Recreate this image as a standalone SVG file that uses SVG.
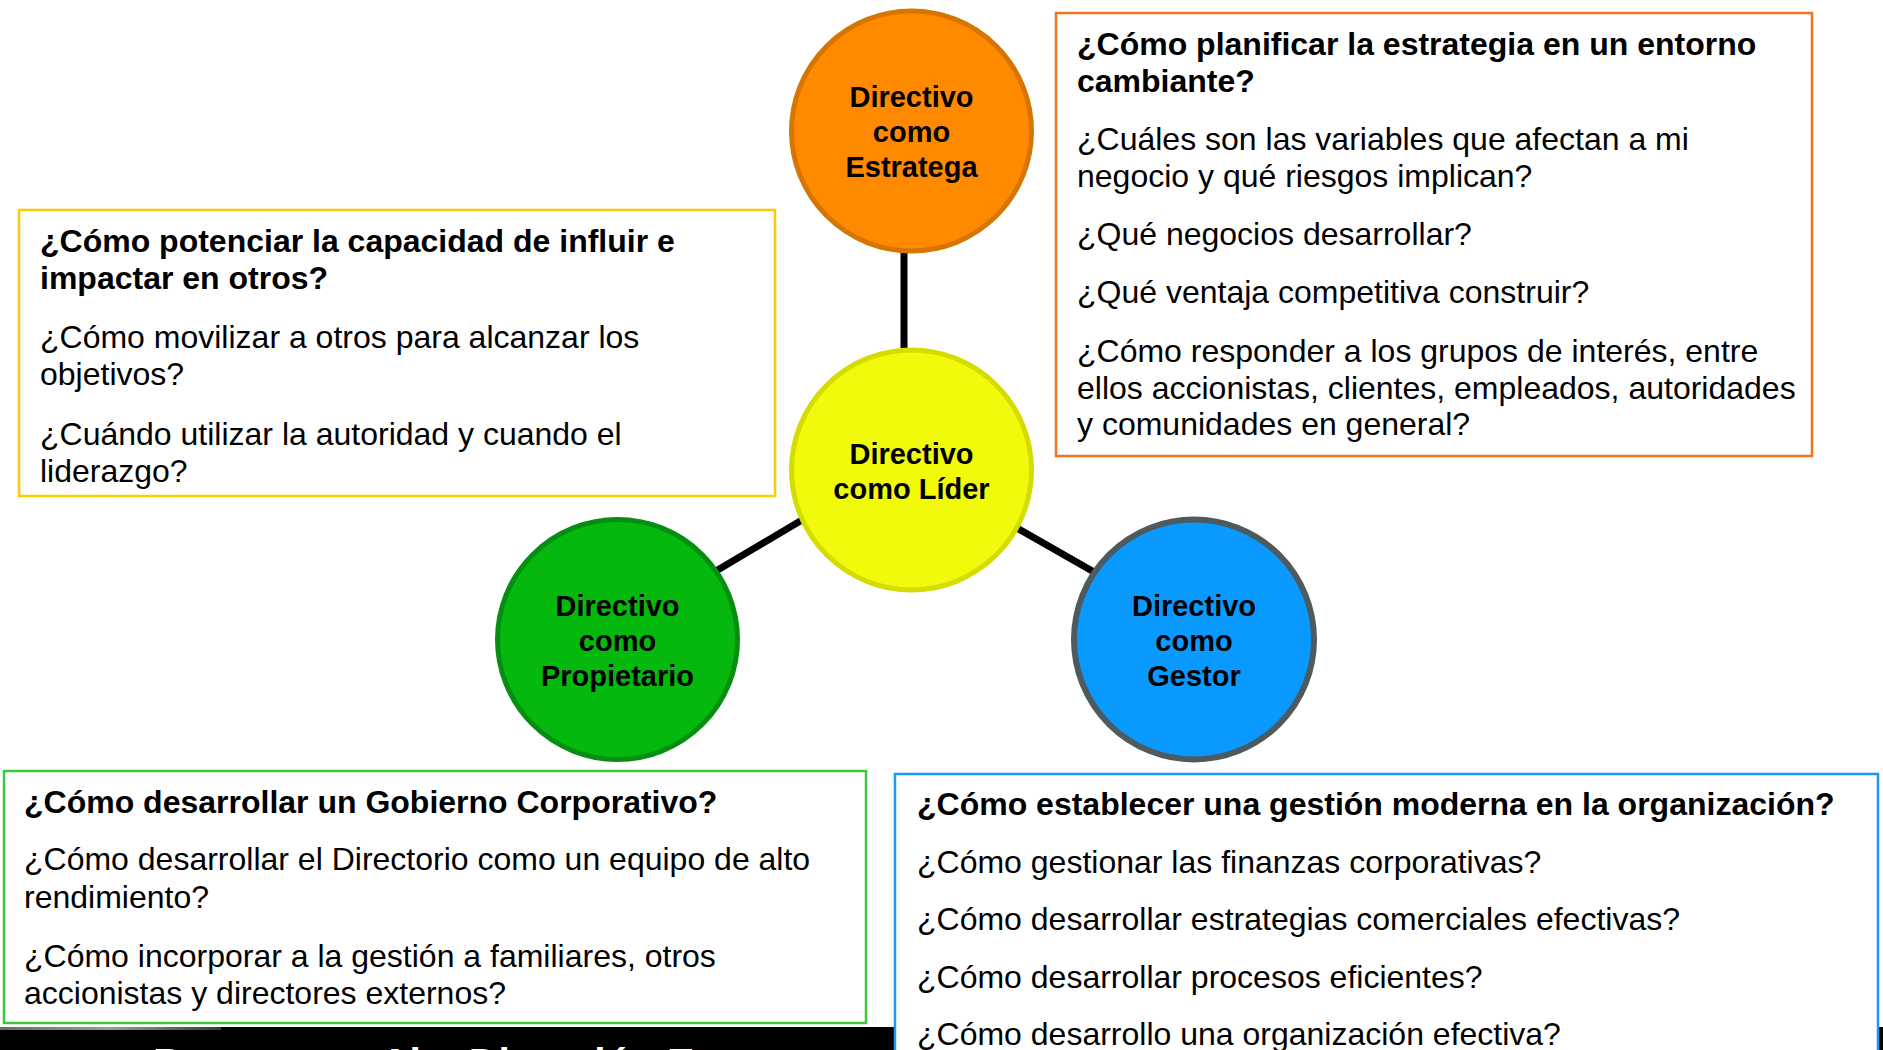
<svg xmlns="http://www.w3.org/2000/svg" width="1883" height="1050" viewBox="0 0 1883 1050">
<defs>
<style>
.box{fill:#fff;stroke-width:2.5}
.t{font-family:"Liberation Sans",Arial,sans-serif;font-size:32px;fill:#000}
.b{font-weight:bold}
.c{font-family:"Liberation Sans",Arial,sans-serif;font-size:29px;font-weight:bold;fill:#000;text-anchor:middle}
.conn{stroke:#000;stroke-width:7;fill:none}
.foot{font-family:"Liberation Sans",Arial,sans-serif;font-size:41px;font-weight:bold;fill:#fff}
</style>
<linearGradient id="gl" x1="0" y1="0" x2="1" y2="0">
<stop offset="0" stop-color="#6a6a6a"/>
<stop offset="0.5" stop-color="#9a9a9a"/>
<stop offset="1" stop-color="#3a3a3a"/>
</linearGradient>
</defs>
<rect x="0" y="0" width="1883" height="1050" fill="#fff"/>

<g id="footer">
<rect x="0" y="1027" width="1883" height="23" fill="#000"/>
<rect x="0" y="1027" width="221" height="3" fill="url(#gl)"/>
<text class="foot" x="153" y="1077">Programa</text>
<text class="foot" x="380" y="1077">Alta Dirección Empresa</text>
</g>

<g id="connectors">
<line class="conn" x1="904" y1="250" x2="904" y2="350"/>
<line class="conn" x1="802" y1="520" x2="716" y2="571"/>
<line class="conn" x1="1017" y1="528" x2="1094" y2="572"/>
</g>

<g id="node-estratega">
<circle cx="911.5" cy="131" r="120" fill="#FF8A00" stroke="#D67600" stroke-width="5"/>
<text class="c" x="911.5" y="107">Directivo</text>
<text class="c" x="911.5" y="142">como</text>
<text class="c" x="911.5" y="177">Estratega</text>
</g>

<g id="node-lider">
<circle cx="911.5" cy="470" r="120" fill="#F0FA0A" stroke="#D4DC00" stroke-width="5"/>
<text class="c" x="911.5" y="464">Directivo</text>
<text class="c" x="911.5" y="499">como Líder</text>
</g>

<g id="node-propietario">
<circle cx="617.5" cy="639.5" r="120" fill="#05B80D" stroke="#078E12" stroke-width="5"/>
<text class="c" x="617.5" y="616">Directivo</text>
<text class="c" x="617.5" y="651">como</text>
<text class="c" x="617.5" y="686">Propietario</text>
</g>

<g id="node-gestor">
<circle cx="1194" cy="639.5" r="120" fill="#0A99FF" stroke="#4D5A5E" stroke-width="6"/>
<text class="c" x="1194" y="616">Directivo</text>
<text class="c" x="1194" y="651">como</text>
<text class="c" x="1194" y="686">Gestor</text>
</g>

<g id="box-lider">
<rect class="box" x="19" y="210" width="756" height="286" stroke="#FFCC00"/>
<text class="t b" x="40" y="252">¿Cómo potenciar la capacidad de influir e</text>
<text class="t b" x="40" y="289">impactar en otros?</text>
<text class="t" x="40" y="348">¿Cómo movilizar a otros para alcanzar los</text>
<text class="t" x="40" y="385">objetivos?</text>
<text class="t" x="40" y="445">¿Cuándo utilizar la autoridad y cuando el</text>
<text class="t" x="40" y="481.5">liderazgo?</text>
</g>

<g id="box-estratega">
<rect class="box" x="1056" y="13" width="756" height="443" stroke="#F27321"/>
<text class="t b" x="1077" y="55">¿Cómo planificar la estrategia en un entorno</text>
<text class="t b" x="1077" y="92">cambiante?</text>
<text class="t" x="1077" y="150">¿Cuáles son las variables que afectan a mi</text>
<text class="t" x="1077" y="187">negocio y qué riesgos implican?</text>
<text class="t" x="1077" y="245">¿Qué negocios desarrollar?</text>
<text class="t" x="1077" y="303">¿Qué ventaja competitiva construir?</text>
<text class="t" x="1077" y="362">¿Cómo responder a los grupos de interés, entre</text>
<text class="t" x="1077" y="398.5">ellos accionistas, clientes, empleados, autoridades</text>
<text class="t" x="1077" y="435">y comunidades en general?</text>
</g>

<g id="box-propietario">
<rect class="box" x="4" y="771" width="862" height="252" stroke="#3CC83C"/>
<text class="t b" x="24" y="813">¿Cómo desarrollar un Gobierno Corporativo?</text>
<text class="t" x="24" y="870">¿Cómo desarrollar el Directorio como un equipo de alto</text>
<text class="t" x="24" y="907.5">rendimiento?</text>
<text class="t" x="24" y="966.5">¿Cómo incorporar a la gestión a familiares, otros</text>
<text class="t" x="24" y="1004">accionistas y directores externos?</text>
</g>

<g id="box-gestor">
<rect class="box" x="895" y="774" width="983" height="300" stroke="#1A9AF0"/>
<text class="t b" x="917" y="815">¿Cómo establecer una gestión moderna en la organización?</text>
<text class="t" x="917" y="873">¿Cómo gestionar las finanzas corporativas?</text>
<text class="t" x="917" y="930">¿Cómo desarrollar estrategias comerciales efectivas?</text>
<text class="t" x="917" y="988">¿Cómo desarrollar procesos eficientes?</text>
<text class="t" x="917" y="1045">¿Cómo desarrollo una organización efectiva?</text>
</g>
</svg>
